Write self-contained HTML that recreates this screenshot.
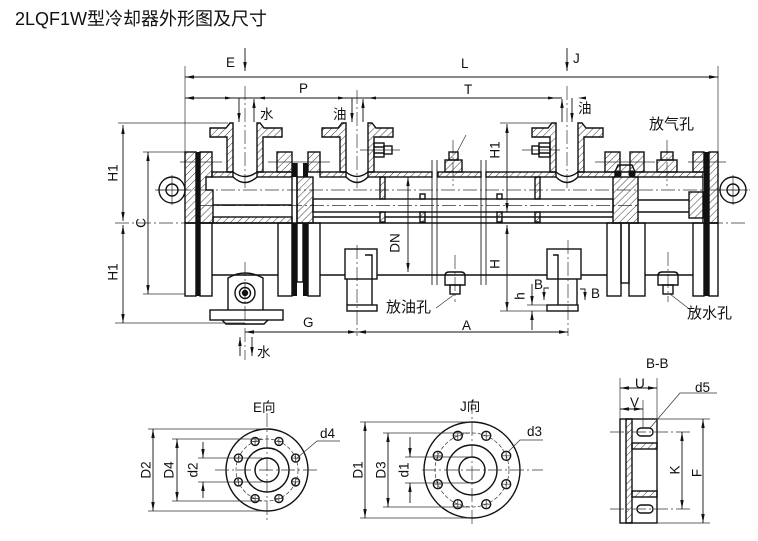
<!DOCTYPE html>
<html><head><meta charset="utf-8"><style>
html,body{margin:0;padding:0;background:#fff;width:758px;height:541px;overflow:hidden}
svg{display:block}
text{font-family:"Liberation Sans","Noto Sans CJK SC",sans-serif;fill:#111;stroke:none}
</style></head><body>
<svg xmlns="http://www.w3.org/2000/svg" width="758" height="541" viewBox="0 0 758 541">
<defs>
<pattern id="h" patternUnits="userSpaceOnUse" width="5" height="5" patternTransform="rotate(45)"><line x1="0" y1="0" x2="0" y2="5" stroke="#222" stroke-width="0.9"/></pattern>
</defs>

<text x="15" y="25" font-size="18">2LQF1W型冷却器外形图及尺寸</text>

<!-- thin / center lines -->
<g stroke="#333" stroke-width="0.7" fill="none">
<path d="M185,66V152M718,66V152"/>
<path d="M118,123H228M500,123H552M115,323H245M143,152H185M143,294H185"/>
<path d="M500,311H547M527,305H547"/>
<path d="M115,223H745" stroke-dasharray="14 3 2 3"/>
<path d="M155,190H750" stroke-dasharray="14 3 2 3"/>
<path d="M200,205.5H640" stroke-dasharray="14 3 2 3"/>
<path d="M245,86V188M245,262V360M357,90V188M567,86V188M453,140V186M667,140V186M455,255V302M668,252V302M357,245V336M568,240V336" stroke-dasharray="14 3 2 3"/>
<path d="M360,150H400M522,150H560M180,162H222M268,162H330M595,162H655M688,162H726"/>
<path d="M172,175V205M157,190H188M733,175V205M718,190H748"/>
<path d="M455,294L436,308M670,294L688,308M457,152L466,135"/>
<path d="M432,160V285M437,160V285M481,160V285M486,160V285" stroke-width="1"/>
</g>

<!-- dimension lines -->
<g stroke="#111" stroke-width="0.9" fill="none">
<path d="M185,77H718"/>
<path d="M185,98H562"/>
<path d="M245,48V71M567,48V71"/>
<path d="M239,98V122M352,98V122M572,98V122"/>
<path d="M254,122V99M363,122V99M562,122V99"/>
<path d="M123,125V221M123,225V323M148,152V294"/>
<path d="M507,124V212M507,225V311M408,177V272"/>
<path d="M532,284V305M532,330V311"/>
<path d="M245,332H568"/>
<path d="M240,356V337M252,337V356"/>
<path d="M549,288H544V300M580,289H585V300"/>
</g>
<!-- arrowheads -->
<g fill="#111" stroke="none">
<path d="M194,75.3L185,77L194,78.7zM709,75.3L718,77L709,78.7z"/>
<path d="M194,96.3L185,98L194,99.7z"/>
<path d="M243.3,62L245,71L246.7,62zM565.3,62L567,71L568.7,62z"/>
<path d="M237.3,113L239,122L240.7,113zM350.3,113L352,122L353.7,113zM570.3,113L572,122L573.7,113z"/>
<path d="M252.3,108L254,99L255.7,108zM361.3,108L363,99L364.7,108zM560.3,108L562,99L563.7,108z"/>
<path d="M121.3,134L123,125L124.7,134zM121.3,212L123,221L124.7,212zM121.3,234L123,225L124.7,234zM121.3,314L123,323L124.7,314z"/>
<path d="M146.3,161L148,152L149.7,161zM146.3,285L148,294L149.7,285z"/>
<path d="M505.3,133L507,124L508.7,133zM505.3,203L507,212L508.7,203zM505.3,234L507,225L508.7,234zM505.3,302L507,311L508.7,302z"/>
<path d="M406.3,186L408,177L409.7,186zM406.3,263L408,272L409.7,263z"/>
<path d="M530.3,296L532,305L533.7,296zM530.3,320L532,311L533.7,320z"/>
<path d="M254,330.3L245,332L254,333.7zM348,330.3L357,332L348,333.7zM366,330.3L357,332L366,333.7zM559,330.3L568,332L559,333.7z"/>
<path d="M238.3,346L240,337L241.7,346zM250.3,347L252,356L253.7,347z"/>
<path d="M542.3,292L544,300L545.7,292zM583.3,292L585,300L586.7,292z"/>
<path d="M225,96.5L233,98L225,99.5zM265,96.5L257,98L265,99.5zM338,96.5L346,98L338,99.5zM376,96.5L368,98L376,99.5zM548,96.5L556,98L548,99.5zM586,96.5L578,98L586,99.5z"/>
<path d="M151.3,438L153,429L154.7,438zM151.3,502L153,511L154.7,502z"/>
<path d="M175.3,448L177,439L178.7,448zM175.3,492L177,501L178.7,492z"/>
<path d="M363.3,431L365,422L366.7,431zM363.3,509L365,518L366.7,509z"/>
<path d="M386.3,442L388,433L389.7,442zM386.3,498L388,507L389.7,498z"/>
<path d="M201.3,449L203,458L204.7,449zM201.3,491L203,482L204.7,491z"/>
<path d="M408.3,448L410,457L411.7,448zM408.3,492L410,483L411.7,492z"/>
<path d="M629,386.3L620,388L629,389.7zM648,386.3L657,388L648,389.7z"/>
<path d="M629,407.3L620,409L629,410.7zM634,407.3L643,409L634,410.7z"/>
<path d="M680.3,441L682,432L683.7,441zM680.3,500L682,509L683.7,500z"/>
<path d="M701.3,428L703,419L704.7,428zM701.3,514L703,523L704.7,514z"/>
</g>

<!-- hatched sections -->
<g fill="url(#h)" stroke="#111" stroke-width="1.4">
<rect x="185" y="152" width="11" height="71"/>
<path d="M200,152H212V177H206V190H213V223H200Z"/>
<rect x="212" y="172" width="21" height="5"/>
<rect x="257" y="172" width="35" height="5"/>
<rect x="213" y="217" width="79" height="6"/>
<rect x="277" y="152" width="15" height="20"/>
<rect x="308" y="152" width="12" height="20"/>
<rect x="297" y="177" width="16" height="46"/>
<path d="M210,128H226L230,123H233V172H227V137H210Z"/>
<path d="M257,123H260L264,128H282V137H263V172H257Z"/>
<path d="M322,128H338L342,123H346V172H340V137H322Z"/>
<path d="M368,123H372L376,128H393V137H374V172H368Z"/>
<path d="M532,128H548L552,123H556V172H550V137H532Z"/>
<path d="M578,123H582L586,128H603V137H584V172H578Z"/>
<rect x="320" y="172" width="26" height="5"/>
<rect x="368" y="172" width="64" height="5"/>
<rect x="438" y="172" width="43" height="5"/>
<rect x="486" y="172" width="70" height="5"/>
<rect x="578" y="172" width="37" height="5"/>
<rect x="633" y="172" width="70" height="5"/>
<rect x="380" y="177" width="5" height="22"/><rect x="380" y="212" width="5" height="10"/>
<rect x="420" y="212" width="5" height="10"/>
<rect x="497" y="212" width="5" height="10"/>
<rect x="535" y="177" width="5" height="22"/><rect x="535" y="212" width="5" height="10"/>
<rect x="605" y="152" width="15" height="20"/>
<rect x="630" y="152" width="14" height="20"/>
<path d="M615,172L618,165H632L635,172Z"/>
<rect x="693" y="152" width="11" height="20"/>
<rect x="709" y="152" width="9" height="71"/>
<rect x="689" y="192" width="15" height="26"/>
<rect x="613" y="177" width="25" height="46"/>
<rect x="445" y="160" width="17" height="12"/><rect x="449" y="152" width="9" height="8"/>
<rect x="657" y="160" width="20" height="12"/><rect x="661" y="152" width="12" height="8"/>
<rect x="626" y="419" width="6" height="104"/>
<rect x="632" y="443" width="25" height="6"/>
<rect x="632" y="491" width="25" height="6"/>
</g>

<!-- black gaskets -->
<g fill="#111">
<rect x="196" y="152" width="4" height="144"/>
<rect x="292" y="163" width="5" height="14"/><rect x="303" y="163" width="5" height="14"/>
<rect x="292" y="223" width="5" height="73"/><rect x="303" y="223" width="5" height="73"/>
<rect x="704" y="152" width="5" height="144"/>
<circle cx="618" cy="174" r="3.6"/><circle cx="632" cy="174" r="3.6"/>
</g>

<!-- outlines -->
<g stroke="#111" stroke-width="1.4" fill="none">
<rect x="185" y="223" width="11" height="73"/>
<rect x="200" y="223" width="12" height="73"/>
<rect x="278" y="223" width="14" height="73"/>
<rect x="297" y="223" width="6" height="59"/>
<rect x="308" y="223" width="12" height="73"/>
<rect x="607" y="223" width="14" height="73"/>
<rect x="621" y="223" width="8" height="60"/>
<rect x="629" y="223" width="16" height="73"/>
<rect x="693" y="223" width="11" height="73"/>
<rect x="709" y="223" width="9" height="73"/>
<path d="M185,223H718"/>
<path d="M292,177V223M297,163V223M703,177V223"/>
<rect x="313" y="199" width="300" height="13"/>
<path d="M638,200H689M638,212H689M313,217H380M385,217H613M213,205H292"/>
<rect x="420" y="194" width="5" height="5"/><rect x="497" y="194" width="5" height="5"/>
<path d="M233,172Q245,181 257,172M233,177Q245,188 257,177"/>
<path d="M346,172Q357,181 368,172M346,177Q357,188 368,177"/>
<path d="M556,172Q567,181 578,172M556,177Q567,188 578,177"/>
<rect x="374" y="143" width="10" height="14"/><rect x="384" y="146" width="8" height="8"/>
<rect x="539" y="143" width="11" height="14"/><rect x="532" y="146" width="7" height="8"/>
<path d="M374,147H384M374,153H384M539,147H550M539,153H550"/>
<circle cx="172" cy="190" r="13"/><circle cx="172" cy="190" r="6"/>
<circle cx="733" cy="190" r="13"/><circle cx="733" cy="190" r="6"/>
<path d="M212,275H278M320,275H345M377,275H547M581,275H607M645,275H693"/>
<path d="M228,310V278Q245,268 263,278V310"/>
<circle cx="245" cy="293" r="10"/><circle cx="245" cy="293" r="5.5"/><circle cx="245" cy="293" r="2.5" fill="#111"/>
<rect x="210" y="310" width="73" height="10"/>
<path d="M222,320L226,324H264L268,320"/>
<rect x="345" y="249" width="32" height="30"/>
<path d="M347,279V305M365,255H372V305"/>
<rect x="347" y="305" width="30" height="6"/>
<rect x="547" y="249" width="34" height="30"/>
<path d="M577,279V305M553,255H558V305"/>
<rect x="547" y="305" width="31" height="6"/>
<path d="M445,285V276Q445,272 449,272H461Q465,272 465,276V285Z"/>
<rect x="450" y="285" width="10" height="9"/>
<path d="M658,285V276Q658,272 662,272H674Q678,272 678,276V285Z"/>
<rect x="663" y="285" width="10" height="9"/>
</g>

<!-- E / J / B-B views -->
<g stroke="#111" stroke-width="1.4" fill="none">
<circle cx="267" cy="470" r="41"/><circle cx="267" cy="470" r="22"/><circle cx="267" cy="470" r="12"/>
<circle cx="295.6" cy="458.1" r="4"/><circle cx="295.6" cy="481.9" r="4"/><circle cx="238.4" cy="458.1" r="4"/><circle cx="238.4" cy="481.9" r="4"/>
<circle cx="278.9" cy="441.4" r="4"/><circle cx="255.1" cy="441.4" r="4"/><circle cx="278.9" cy="498.6" r="4"/><circle cx="255.1" cy="498.6" r="4"/>
<circle cx="472" cy="470" r="48"/><circle cx="472" cy="470" r="25"/><circle cx="472" cy="470" r="13"/>
<circle cx="506.2" cy="455.8" r="4.5"/><circle cx="506.2" cy="484.2" r="4.5"/><circle cx="437.8" cy="455.8" r="4.5"/><circle cx="437.8" cy="484.2" r="4.5"/>
<circle cx="486.2" cy="435.8" r="4.5"/><circle cx="457.8" cy="435.8" r="4.5"/><circle cx="486.2" cy="504.2" r="4.5"/><circle cx="457.8" cy="504.2" r="4.5"/>
<rect x="620" y="419" width="37" height="104"/>
<rect x="637" y="428" width="16" height="8" rx="4"/>
<rect x="637" y="505" width="16" height="8" rx="4"/>
</g>
<g stroke="#333" stroke-width="0.7" fill="none">
<circle cx="267" cy="470" r="31" stroke-dasharray="4 2"/>
<circle cx="472" cy="470" r="37" stroke-dasharray="4 2"/>
<path d="M215,470H320M267,413V523M422,470H543M472,400V527" stroke-dasharray="14 3 2 3"/>
<path d="M148,429H267M148,511H267M172,439H262M172,501H262M198,458H262M198,482H262"/>
<path d="M360,422H472M360,518H472M383,433H470M383,507H470M405,457H472M405,483H472"/>
<path d="M340,441H317L297,458M543,440H520L508,452M717,393H680L650,428"/>
<path d="M610,432H692M610,509H692" stroke-dasharray="14 3 2 3"/>
<path d="M620,378V419M657,378V419M643,400V428M657,419H710M657,523H710"/>
<path d="M291.6,458.1H299.6M295.6,454.1V462.1M291.6,481.9H299.6M295.6,477.9V485.9M234.4,458.1H242.4M238.4,454.1V462.1M234.4,481.9H242.4M238.4,477.9V485.9M274.9,441.4H282.9M278.9,437.4V445.4M251.1,441.4H259.1M255.1,437.4V445.4M274.9,498.6H282.9M278.9,494.6V502.6M251.1,498.6H259.1M255.1,494.6V502.6"/>
<path d="M501.7,455.8H510.7M506.2,451.3V460.3M501.7,484.2H510.7M506.2,479.7V488.7M433.3,455.8H442.3M437.8,451.3V460.3M433.3,484.2H442.3M437.8,479.7V488.7M481.7,435.8H490.7M486.2,431.3V440.3M453.3,435.8H462.3M457.8,431.3V440.3M481.7,504.2H490.7M486.2,499.7V508.7M453.3,504.2H462.3M457.8,499.7V508.7"/>
</g>
<g stroke="#111" stroke-width="0.9" fill="none">
<path d="M153,429V511M177,439V501M365,422V518M388,433V507M620,388H657M620,409H643M682,432V509M703,419V523"/>
<path d="M203,442V458M203,498V482M410,437V457M410,503V483"/>
</g>

<!-- labels -->
<g font-size="13.5">
<text x="226" y="67">E</text>
<text x="461" y="68">L</text>
<text x="573" y="63">J</text>
<text x="299" y="93">P</text>
<text x="464" y="94">T</text>
<text x="303" y="327">G</text>
<text x="462" y="330">A</text>
<text x="534" y="289">B</text>
<text x="591" y="298">B</text>
<text x="646" y="368">B-B</text>
<text x="320" y="438">d4</text>
<text x="527" y="436">d3</text>
<text x="695" y="392">d5</text>
<text x="635" y="388">U</text>
<text x="630" y="407">V</text>
<text x="253" y="412">E向</text>
<text x="460" y="411">J向</text>
<text x="260" y="119">水</text>
<text x="333" y="119">油</text>
<text x="578" y="113">油</text>
<text x="257" y="357">水</text>
</g>
<g font-size="13.5" text-anchor="middle" dominant-baseline="central">
<text transform="translate(113,173) rotate(-90)">H1</text>
<text transform="translate(113,272) rotate(-90)">H1</text>
<text transform="translate(141,223) rotate(-90)">C</text>
<text transform="translate(395,243) rotate(-90)">DN</text>
<text transform="translate(495,150) rotate(-90)">H1</text>
<text transform="translate(495,264) rotate(-90)">H</text>
<text transform="translate(520,296) rotate(-90)">h</text>
<text transform="translate(146,470) rotate(-90)">D2</text>
<text transform="translate(169,470) rotate(-90)">D4</text>
<text transform="translate(193,470) rotate(-90)">d2</text>
<text transform="translate(358,470) rotate(-90)">D1</text>
<text transform="translate(381,470) rotate(-90)">D3</text>
<text transform="translate(404,470) rotate(-90)">d1</text>
<text transform="translate(675,470) rotate(-90)">K</text>
<text transform="translate(697,473) rotate(-90)">F</text>
</g>
<g font-size="15">
<text x="649" y="129">放气孔</text>
<text x="386" y="312">放油孔</text>
<text x="687" y="318">放水孔</text>
</g>
</svg>
</body></html>
